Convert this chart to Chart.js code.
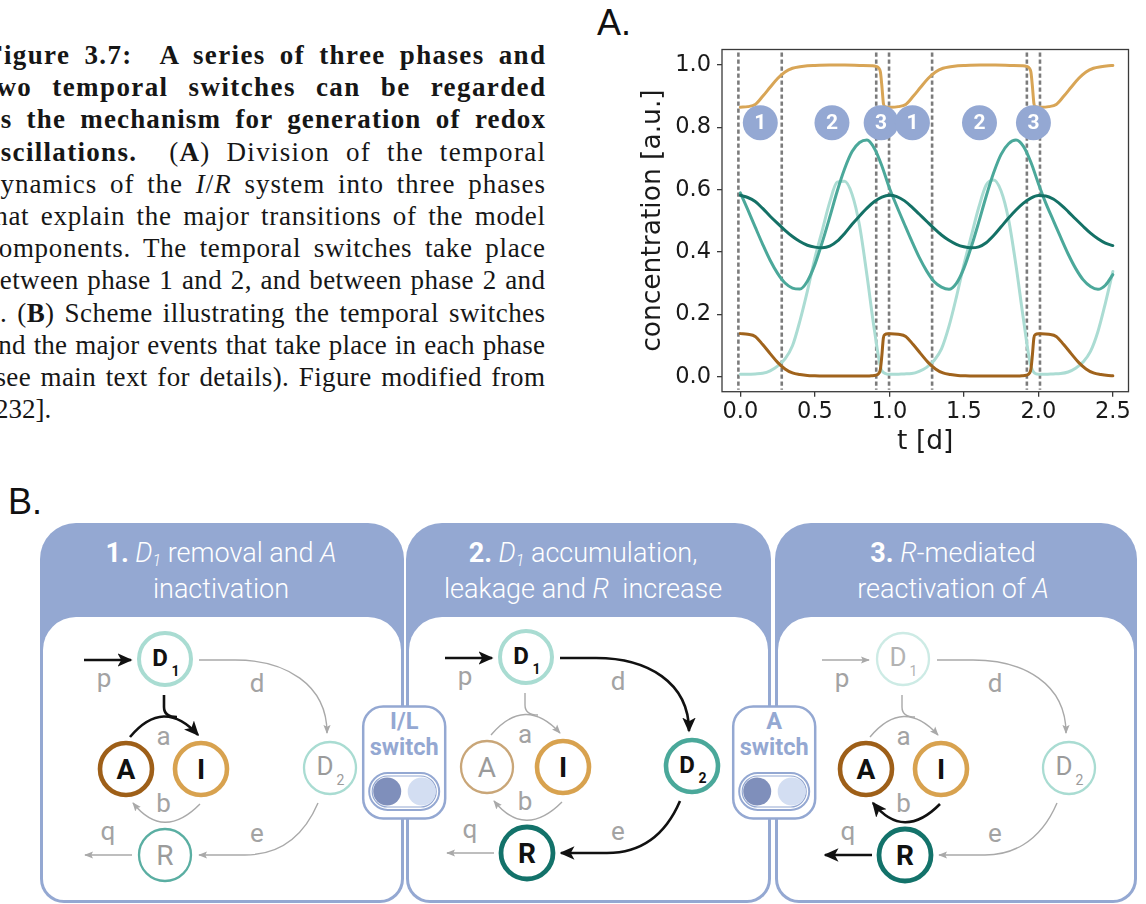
<!DOCTYPE html>
<html lang="en">
<head>
<meta charset="utf-8">
<title>Redox oscillation phases</title>
<script src="https://cdn.jsdelivr.net/npm/chart.js@4.4.1/dist/chart.umd.min.js"></script>
<style>
  html, body { margin:0; padding:0; background:#fff; }
  body { position:relative; width:1146px; height:904px; overflow:hidden; }
  #caption { position:absolute; left:-14px; top:39px; width:559px;
    font-family:"Liberation Serif","DejaVu Serif",serif; font-size:27px; color:#161616; }
  #caption .ln { height:32.2px; line-height:32.2px; white-space:nowrap; }
  #scheme { position:absolute; left:0; top:0; }
  #plotBox { position:absolute; left:600px; top:30px; width:546px; height:440px; }
</style>
</head>
<body>
<div id="caption"></div>
<svg id="scheme" width="1146" height="904" viewBox="0 0 1146 904"></svg>
<div id="plotBox"><canvas id="conc" width="546" height="440"></canvas></div>
<script>
// ---------- time courses (t in days) ----------
const tSmooth = [0.00,0.05,0.10,0.15,0.20,0.25,0.30,0.35,0.40,0.45,
                 0.50,0.55,0.60,0.65,0.70,0.75,0.80,0.85,0.90,0.95,
                 1.00,1.05,1.10,1.15,1.20,1.25,1.30,1.35,1.40,1.45,
                 1.50,1.55,1.60,1.65,1.70,1.75,1.80,1.85,1.90,1.95,
                 2.00,2.05,2.10,2.15,2.20,2.25,2.30,2.35,2.40,2.45,2.50];

// R (dark teal)
const rValues = [0.582,0.575,0.562,0.540,0.515,0.492,0.470,0.450,0.434,0.422,
                 0.416,0.414,0.419,0.435,0.460,0.489,0.516,0.541,0.562,0.576,
                 0.582,0.578,0.565,0.545,0.522,0.499,0.476,0.455,0.438,0.425,
                 0.417,0.414,0.417,0.430,0.453,0.481,0.509,0.535,0.557,0.573,
                 0.581,0.580,0.570,0.552,0.530,0.506,0.483,0.461,0.443,0.429,0.421];

// D2 (medium teal)
const d2Values = [0.590,0.536,0.480,0.425,0.374,0.332,0.301,0.285,0.282,0.307,
                  0.360,0.432,0.512,0.595,0.667,0.722,0.751,0.759,0.732,0.676,
                  0.606,0.547,0.491,0.436,0.384,0.340,0.306,0.288,0.281,0.300,
                  0.348,0.417,0.496,0.579,0.654,0.713,0.747,0.759,0.739,0.688,
                  0.620,0.557,0.502,0.447,0.394,0.348,0.312,0.290,0.281,0.294,0.328];

// D1 (light teal)
const d1Values = [0.009,0.009,0.010,0.012,0.020,0.035,0.058,0.100,0.180,0.275,
                  0.380,0.470,0.560,0.624,0.627,0.585,0.485,0.325,0.150,0.020,
                  0.009,0.009,0.010,0.011,0.018,0.031,0.053,0.090,0.162,0.256,
                  0.359,0.452,0.543,0.615,0.631,0.596,0.505,0.357,0.185,0.035,
                  0.009,0.009,0.010,0.011,0.016,0.028,0.048,0.082,0.146,0.237,0.338];

// denser sampling around the A/I switching events
const tSwitch = [0.00,0.05,0.10,0.15,0.20,0.25,0.30,0.35,0.40,0.45,0.50,0.60,0.70,0.80,0.88,0.91,0.93,0.94,0.95,0.96,0.97,0.99,
                 1.01,1.06,1.11,1.16,1.21,1.26,1.31,1.36,1.41,1.46,1.51,1.61,1.71,1.81,1.89,1.92,1.94,1.95,1.96,1.97,1.98,2.00,
                 2.02,2.07,2.12,2.17,2.22,2.27,2.32,2.37,2.42,2.47,2.50];

// A (brown)
const aValues = [0.139,0.137,0.130,0.104,0.075,0.047,0.026,0.013,0.008,0.005,0.004,0.003,0.003,0.003,0.004,0.006,0.012,0.025,0.070,0.125,0.136,0.139,
                 0.139,0.137,0.130,0.104,0.075,0.047,0.026,0.013,0.008,0.005,0.004,0.003,0.003,0.003,0.004,0.006,0.012,0.025,0.070,0.125,0.136,0.139,
                 0.139,0.137,0.130,0.104,0.075,0.047,0.026,0.013,0.008,0.005,0.004];

// I (gold)
const iValues = [0.864,0.866,0.873,0.899,0.928,0.956,0.977,0.989,0.994,0.997,0.998,0.999,0.999,0.998,0.997,0.995,0.989,0.977,0.932,0.877,0.866,0.864,
                 0.864,0.866,0.873,0.899,0.928,0.956,0.977,0.989,0.994,0.997,0.998,0.999,0.999,0.998,0.997,0.995,0.989,0.977,0.932,0.877,0.866,0.864,
                 0.864,0.866,0.873,0.899,0.928,0.956,0.977,0.989,0.994,0.997,0.998];

// phase boundaries and phase badges
const phaseBounds = [-0.013, 0.278, 0.912, 0.998, 1.287, 1.923, 2.011];
const phaseMarkT = [0.134, 0.615, 0.945, 1.155, 1.605, 1.967];
const phaseMarkLevel = [0.8145, 0.8145, 0.8145, 0.8145, 0.8145, 0.8145];
const phaseMarkText = ['1', '2', '3', '1', '2', '3'];

const xTicks = [0, 0.5, 1.0, 1.5, 2.0, 2.5];
const yTicks = [0, 0.2, 0.4, 0.6, 0.8, 1.0];

// ---------- caption ----------
const captionLines = [
  '<b>Figure 3.7:&nbsp; A series of three phases and</b>',
  '<b>two temporal switches can be regarded</b>',
  '<b>as the mechanism for generation of redox</b>',
  '<b>oscillations.</b>&nbsp; (<b>A</b>) Division of the temporal',
  'dynamics of the <i>I</i>/<i>R</i> system into three phases',
  'that explain the major transitions of the model',
  'components. The temporal switches take place',
  'between phase 1 and 2, and between phase 2 and',
  '3. (<b>B</b>) Scheme illustrating the temporal switches',
  'and the major events that take place in each phase',
  '(see main text for details). Figure modified from',
  '[232].'
];
const CAP_W = 559;
const cap = document.getElementById('caption');
captionLines.forEach((h, i) => {
  const ln = document.createElement('div');
  ln.className = 'ln';
  const sp = document.createElement('span');
  sp.innerHTML = h;
  ln.appendChild(sp);
  cap.appendChild(ln);
  if (i < captionLines.length - 1) {
    // justify: share the free space between letters and word gaps
    const w = sp.getBoundingClientRect().width;
    const text = sp.textContent;
    const gaps = (text.match(/[ \u00a0]/g) || []).length;
    const extra = CAP_W - w;
    let ls = Math.max(0, Math.min(1.4, extra * 0.55 / text.length));
    ln.style.letterSpacing = ls + 'px';
    const w2 = sp.getBoundingClientRect().width - ls;
    if (gaps) ln.style.wordSpacing = ((CAP_W - w2) / gaps) + 'px';
  }
});

// ---------- scheme (panel B) ----------
const NS = 'http://www.w3.org/2000/svg';
const svg = document.getElementById('scheme');
function mk(tag, attrs, parent) {
  const e = document.createElementNS(NS, tag);
  for (const k in attrs) e.setAttribute(k, attrs[k]);
  (parent || svg).appendChild(e);
  return e;
}
function txt(parent, x, y, parts, attrs) {
  const t = mk('text', Object.assign({x: x, y: y}, attrs), parent);
  parts.forEach(p => { const s = mk('tspan', p.a || {}, t); s.textContent = p.s; });
  return t;
}
function roundedPath(x0, y0, x1, y1, rt, rb) {
  return `M${x0},${y0+rt} A${rt},${rt} 0 0 1 ${x0+rt},${y0} L${x1-rt},${y0} A${rt},${rt} 0 0 1 ${x1},${y0+rt} ` +
         `L${x1},${y1-rb} A${rb},${rb} 0 0 1 ${x1-rb},${y1} L${x0+rb},${y1} A${rb},${rb} 0 0 1 ${x0},${y1-rb} Z`;
}

const BLUE = '#94a8d2';
const defs = mk('defs', {});
const mg = mk('marker', {id:'hg', markerUnits:'userSpaceOnUse', viewBox:'0 0 10 10', markerWidth:9, markerHeight:9, refX:9, refY:5, orient:'auto'}, defs);
mk('path', {d:'M0,1 L10,5 L0,9 L2,5 Z', fill:'#a9a9a9'}, mg);
const mb = mk('marker', {id:'hb', markerUnits:'userSpaceOnUse', viewBox:'0 0 10 10', markerWidth:15, markerHeight:15, refX:9, refY:5, orient:'auto'}, defs);
mk('path', {d:'M0,0.5 L10,5 L0,9.5 L2.5,5 Z', fill:'#111'}, mb);

// panel frames + headers
const panels = [
  {x0:40, x1:404, cx:221,
   l1:[{s:'1.', a:{'font-weight':700}}, {s:' '}, {s:'D', a:{'font-style':'italic'}}, {s:'1', a:{'font-style':'italic','font-size':16, dy:4}}, {s:' removal and ', a:{dy:-4}}, {s:'A', a:{'font-style':'italic'}}],
   l2:[{s:'inactivation'}]},
  {x0:406, x1:771, cx:583,
   l1:[{s:'2.', a:{'font-weight':700}}, {s:' '}, {s:'D', a:{'font-style':'italic'}}, {s:'1', a:{'font-style':'italic','font-size':16, dy:4}}, {s:' accumulation,', a:{dy:-4}}],
   l2:[{s:'leakage and '}, {s:'R', a:{'font-style':'italic'}}, {s:'\u00a0 increase'}]},
  {x0:775, x1:1137, cx:953,
   l1:[{s:'3.', a:{'font-weight':700}}, {s:' '}, {s:'R', a:{'font-style':'italic'}}, {s:'-mediated'}],
   l2:[{s:'reactivation of '}, {s:'A', a:{'font-style':'italic'}}]}
];
panels.forEach(p => {
  mk('path', {d: roundedPath(p.x0, 523, p.x1, 903, 36, 24), fill: BLUE});
  mk('path', {d: roundedPath(p.x0 + 3, 617, p.x1 - 3, 900, 33, 21), fill: '#fff'});
  const hs = {'font-family':'Roboto, sans-serif', 'font-size':27, 'font-weight':300, fill:'#fff', 'text-anchor':'middle'};
  txt(null, p.cx, 562, p.l1, hs);
  txt(null, p.cx, 598, p.l2, hs);
});

// network drawing
const C = {lt:'#a9dcd2', ltFaint:'#cdebe5', mt:'#4aa89a', dt:'#13726a', br:'#9e5f18', brFaint:'#c9a678', go:'#d8a24f', rFaint:'#5aaea2'};
function arrow(g, d, on, head) {
  const a = {d: d, fill:'none', stroke: on ? '#111' : '#a9a9a9', 'stroke-width': on ? 2.6 : 1.4};
  if (head !== false) a['marker-end'] = on ? 'url(#hb)' : 'url(#hg)';
  mk('path', a, g);
}
function node(g, x, y, main, sub, st) {
  mk('circle', {cx:x, cy:y, r:26, fill:'#fff', stroke:st.c, 'stroke-width':st.w}, g);
  const col = st.bold ? '#111' : (st.tc || '#9b9b9b');
  const fw = st.bold ? 700 : 400;
  if (sub) {
    txt(g, x - 5, y + 7, [{s:main}], {'font-family':'Roboto, sans-serif', 'font-size':st.bold ? 24 : 26, 'font-weight':fw, fill:col, 'text-anchor':'middle'});
    txt(g, x + 10.5, y + 17, [{s:sub}], {'font-family':'Roboto, sans-serif', 'font-size':14, 'font-weight':fw, fill:col, 'text-anchor':'middle'});
  } else {
    txt(g, x, y + 10, [{s:main}], {'font-family':'Roboto, sans-serif', 'font-size':28, 'font-weight':fw, fill:col, 'text-anchor':'middle'});
  }
}
function network(P, on, st) {
  const g = mk('g', {});
  const [d1x, d1y] = P.D1, [ax, ay] = P.A, [ix, iy] = P.I, [d2x, d2y] = P.D2, [rx, ry] = P.R;
  const mx = (ax + ix) / 2;
  arrow(g, `M${d1x-81},${d1y+1} L${d1x-34},${d1y+1}`, on.p);
  arrow(g, `M${d1x+34},${d1y+1} L${d1x+70},${d1y+1} C${d2x-45},${d1y+1} ${d2x-3},${d1y+25} ${d2x-3},${d2y-35}`, on.d);
  arrow(g, `M${ax+4},${ay-32} Q${mx},${ay-72} ${ix-3},${iy-34}`, on.a);
  arrow(g, `M${d1x-1},${d1y+36} L${d1x-1},${d1y+48} Q${d1x-1},${d1y+58} ${d1x+12},${d1y+58}`, on.a, false);
  arrow(g, `M${ix-1},${iy+35} Q${mx},${iy+72} ${ax+7},${ay+34}`, on.b);
  arrow(g, `M${d2x-12},${d2y+35} C${d2x-30},${ry-10} ${d2x-60},${ry} ${rx+80},${ry} L${rx+34},${ry}`, on.e);
  arrow(g, `M${rx-33},${ry} L${rx-80},${ry}`, on.q);
  const ls = {'font-family':'Roboto, sans-serif', 'font-size':26, fill:'#a3a3a3', 'text-anchor':'middle'};
  txt(g, d1x - 61, d1y + 28, [{s:'p'}], ls);
  txt(g, d1x + 92, d1y + 33, [{s:'d'}], ls);
  txt(g, mx, ay - 24, [{s:'a'}], ls);
  txt(g, mx, ay + 43, [{s:'b'}], ls);
  txt(g, d1x + 92, ry - 13, [{s:'e'}], ls);
  txt(g, rx - 57, ry - 15, [{s:'q'}], ls);
  node(g, d1x, d1y, 'D', '1', st.D1);
  node(g, ax, ay, 'A', null, st.A);
  node(g, ix, iy, 'I', null, st.I);
  node(g, d2x, d2y, 'D', '2', st.D2);
  node(g, rx, ry, 'R', null, st.R);
}
network({D1:[165,659], A:[126,769], I:[201,769], D2:[330,768], R:[165,855]},
  {p:true, d:false, a:true, b:false, e:false, q:false},
  {D1:{c:C.lt, w:4, bold:true}, A:{c:C.br, w:4.6, bold:true}, I:{c:C.go, w:4.6, bold:true},
   D2:{c:C.lt, w:2.3}, R:{c:C.rFaint, w:2.3}});
network({D1:[526,657], A:[487,767], I:[563,767], D2:[692,766], R:[527,853]},
  {p:true, d:true, a:false, b:false, e:true, q:false},
  {D1:{c:C.lt, w:4, bold:true}, A:{c:C.brFaint, w:2.3}, I:{c:C.go, w:4.6, bold:true},
   D2:{c:C.mt, w:4.6, bold:true}, R:{c:C.dt, w:4.8, bold:true}});
network({D1:[903,659], A:[866,769], I:[941,769], D2:[1069,768], R:[905,855]},
  {p:false, d:false, a:false, b:true, e:false, q:true},
  {D1:{c:C.ltFaint, w:2.3, tc:'#b3b3b3'}, A:{c:C.br, w:4.6, bold:true}, I:{c:C.go, w:4.6, bold:true},
   D2:{c:C.lt, w:2.3}, R:{c:C.dt, w:4.8, bold:true}});

// temporal switches between the panels
function switchBox(cx, title) {
  const g = mk('g', {});
  mk('rect', {x:cx-41, y:706.5, width:82, height:112, rx:20, fill:'#fff', stroke:BLUE, 'stroke-width':2.5}, g);
  const ts = {'font-family':'Roboto, sans-serif', 'font-size':23.5, 'font-weight':700, fill:BLUE, 'text-anchor':'middle'};
  txt(g, cx, 728.5, [{s:title}], ts);
  txt(g, cx, 755, [{s:'switch'}], ts);
  mk('rect', {x:cx-35, y:773, width:70, height:37, rx:18.5, fill:'#fff', stroke:BLUE, 'stroke-width':2}, g);
  mk('rect', {x:cx-32, y:776, width:64, height:31, rx:15.5, fill:'none', stroke:BLUE, 'stroke-width':1.2}, g);
  mk('circle', {cx:cx-17, cy:791.5, r:14, fill:'#7f8fbb'}, g);
  mk('circle', {cx:cx+17.5, cy:791.5, r:14, fill:'#d3def2'}, g);
}
switchBox(404.2, 'I/L');
switchBox(774.2, 'A');

// panel letters
txt(null, 597, 35, [{s:'A.'}], {'font-family':'"Liberation Sans", Arial, sans-serif', 'font-size':36, fill:'#111'});
txt(null, 8, 514, [{s:'B.'}], {'font-family':'"Liberation Sans", Arial, sans-serif', 'font-size':36, fill:'#111'});

// ---------- chart (panel A) ----------
const pts = (ts, vs) => ts.map((t, i) => ({x: t, y: vs[i]}));
const curve = (label, data, color) => ({
  label: label, data: data, borderColor: color, borderWidth: 3, pointRadius: 0,
  fill: false, cubicInterpolationMode: 'monotone', borderCapStyle: 'round', borderJoinStyle: 'round'
});

const guidePlugin = {
  id: 'phaseGuides',
  beforeDatasetsDraw(chart) {
    const {ctx, chartArea, scales} = chart;
    ctx.save();
    ctx.strokeStyle = '#7b7b7b';
    ctx.lineWidth = 2.6;
    ctx.setLineDash([4.2, 2.8]);
    phaseBounds.forEach(t => {
      const px = scales.x.getPixelForValue(t);
      ctx.beginPath();
      ctx.moveTo(px, chartArea.top + 3);
      ctx.lineTo(px, chartArea.bottom - 2);
      ctx.stroke();
    });
    ctx.restore();
  },
  afterDatasetsDraw(chart) {
    const {ctx} = chart;
    const meta = chart.getDatasetMeta(0);
    ctx.save();
    ctx.fillStyle = '#ffffff';
    ctx.font = 'bold 21px Roboto, sans-serif';
    ctx.textAlign = 'center';
    ctx.textBaseline = 'middle';
    meta.data.forEach((pt, i) => ctx.fillText(phaseMarkText[i], pt.x, pt.y + 1));
    ctx.restore();
  },
  afterDraw(chart) {
    const {ctx, chartArea: a} = chart;
    ctx.save();
    ctx.strokeStyle = '#3a3a3a';
    ctx.lineWidth = 1.3;
    ctx.strokeRect(a.left, a.top, a.right - a.left, a.bottom - a.top);
    ctx.restore();
  }
};

const tickFont = {family: 'DejaVu Sans', size: 22.5, lineHeight: 1.2};
const titleFont = {family: 'DejaVu Sans', size: 26.5, lineHeight: 1};

new Chart(document.getElementById('conc'), {
  type: 'line',
  data: {
    datasets: [
      {label: 'phase', data: pts(phaseMarkT, phaseMarkLevel), showLine: false,
       pointRadius: 17.5, pointHoverRadius: 17.5, pointBackgroundColor: '#94a8d3', pointBorderWidth: 0,
       pointBorderColor: 'rgba(0,0,0,0)'},
      curve('I', pts(tSwitch, iValues), '#d8a556'),
      curve('A', pts(tSwitch, aValues), '#a0631c'),
      curve('R', pts(tSmooth, rValues), '#147166'),
      curve('D2', pts(tSmooth, d2Values), '#4ba89a'),
      curve('D1', pts(tSmooth, d1Values), '#abdcd3')
    ]
  },
  options: {
    responsive: false,
    devicePixelRatio: 1,
    animation: false,
    events: [],
    layout: {padding: {top: 14.7, right: 9, left: 0, bottom: 0}},
    plugins: {legend: {display: false}, tooltip: {enabled: false}},
    scales: {
      x: {
        type: 'linear', min: -0.123, max: 2.605,
        afterBuildTicks: s => { s.ticks = xTicks.map(v => ({value: v})); },
        afterFit: s => { s.height = 78.3; },
        ticks: {font: tickFont, color: '#1a1a1a', padding: 2, autoSkip: false, maxRotation: 0,
                callback: v => Number(v).toFixed(1)},
        grid: {display: true, drawOnChartArea: false, drawTicks: true, tickLength: 5, color: '#3a3a3a', lineWidth: 1.3},
        border: {display: false},
        title: {display: true, text: 't [d]', font: titleFont, color: '#1a1a1a', padding: {top: 0, bottom: 14.3}}
      },
      y: {
        type: 'linear', min: -0.047, max: 1.049,
        afterBuildTicks: s => { s.ticks = yTicks.map(v => ({value: v})); },
        afterFit: s => { s.width = 122; },
        ticks: {font: tickFont, color: '#1a1a1a', padding: 6, autoSkip: false,
                callback: v => Number(v).toFixed(1)},
        grid: {display: true, drawOnChartArea: false, drawTicks: true, tickLength: 5, color: '#3a3a3a', lineWidth: 1.3},
        border: {display: false},
        title: {display: true, text: 'concentration [a.u.]', font: titleFont, color: '#1a1a1a', padding: {top: 39.7, bottom: 0}}
      }
    }
  },
  plugins: [guidePlugin]
});
</script>
</body>
</html>
